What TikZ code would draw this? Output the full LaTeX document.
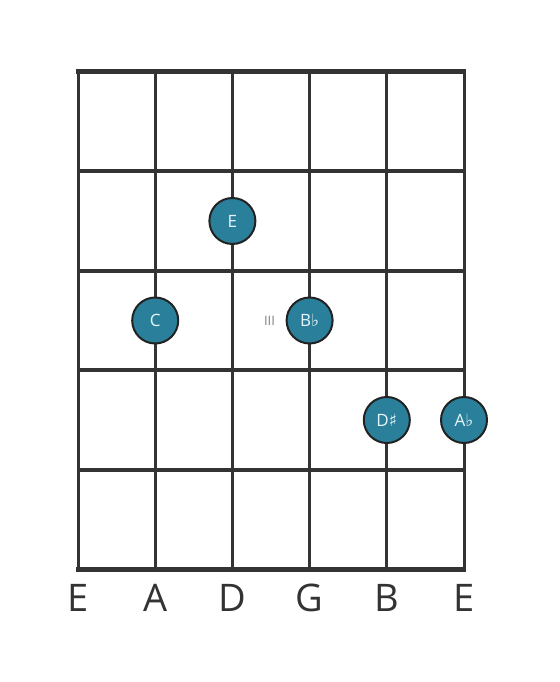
\documentclass[tikz,border=0pt]{standalone}
\usepackage{fontspec}
\setmainfont{Open Sans}
\newfontfamily\symfont{DejaVu Sans}
\definecolor{gridc}{HTML}{333333}
\definecolor{notec}{HTML}{2A7F9A}
\definecolor{ringc}{HTML}{222222}
\definecolor{notetext}{HTML}{E6F6FA}
\begin{document}
\begin{tikzpicture}[x=1pt,y=-1pt,
  fretline/.style={draw=gridc,line width=4pt},
  nutline/.style={draw=gridc,line width=5pt},
  stringline/.style={draw=gridc,line width=3pt},
  note/.style={circle,fill=notec,draw=ringc,line width=2pt,minimum size=46pt,inner sep=0pt,text=notetext,font=\fontsize{17}{17}\selectfont},
  strlabel/.style={text=gridc,font=\fontsize{38}{38}\selectfont,inner sep=0pt},
  fing/.style={text=gray,font=\fontsize{13}{13}\selectfont,inner sep=0pt}]
\useasboundingbox (0,0) rectangle (559,682);
% strings
\foreach \i/\x in {0/78,1/155.2,2/232.4,3/309.6,4/386.8,5/464}{
  \coordinate (st\i) at (\x,72);
  \coordinate (sb\i) at (\x,569);
  \draw[stringline] (st\i) -- (sb\i);
}
% frets
\foreach \j/\y in {1/171.4,2/270.8,3/370.2,4/469.6}{
  \coordinate (fl\j) at (78,\y);
  \coordinate (fr\j) at (464,\y);
  \draw[fretline] (fl\j) -- (fr\j);
}
\coordinate (nl) at (76,72); \coordinate (nr) at (466,72);
\coordinate (bl) at (76,569); \coordinate (br) at (466,569);
\draw[nutline] (nl) -- (nr);
\draw[nutline] (bl) -- (br);
% notes
\node[note] (nE) at (232.4,221) {E};
\node[note] (nC) at (155.2,320.5) {C};
\node[note] (nBb) at (309.6,320.5) {B{\symfont ♭}};
\node[note] (nDs) at (386.8,420) {D{\symfont ♯}};
\node[note] (nAb) at (464,420) {A{\symfont ♭}};
\node[fing] (f3) at (269.5,321) {III};
% string names
\foreach \i/\x/\n in {0/78/E,1/155.2/A,2/232.4/D,3/309.6/G,4/386.8/B,5/464/E}{
  \node[strlabel] (lab\i) at (\x,598) {\n};
}
\end{tikzpicture}
\end{document}
